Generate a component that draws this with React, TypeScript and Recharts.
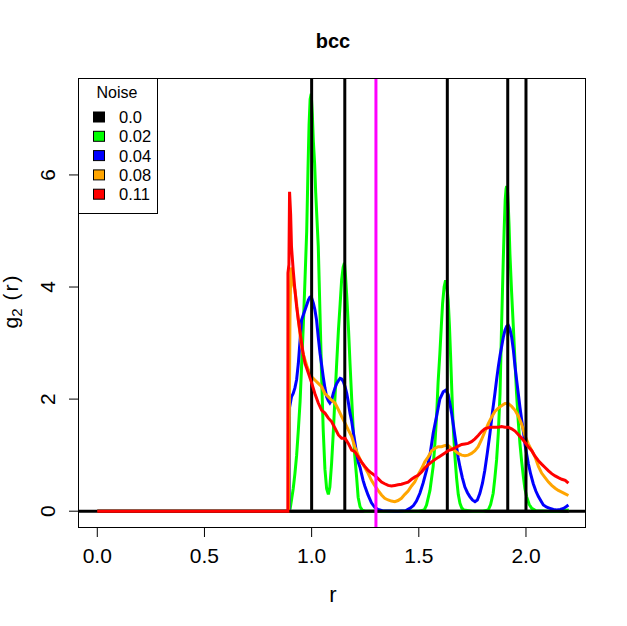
import { LineChart, Line, XAxis, YAxis, ReferenceLine } from "recharts";

// g2(r) for bcc with increasing noise
const xTicks = [0, 0.5, 1.0, 1.5, 2.0];
const yTicks = [0, 2, 4, 6];
const cutoff = 1.3;

// noise 0.0: delta peaks at the bcc shells (heights run off the chart)
const blackR = [0, 1.0, 1.0, 1.0, 1.1547, 1.1547, 1.1547, 1.633, 1.633, 1.633, 1.9149, 1.9149, 1.9149, 2.0, 2.0, 2.0, 2.2];
const blackG = [0, 0, 60, 0, 0, 60, 0, 0, 60, 0, 0, 60, 0, 0, 60, 0, 0];

const greenR = [0, 0.898, 0.906, 0.914, 0.922, 0.93, 0.938, 0.946, 0.953, 0.961, 0.969, 0.977, 0.983, 0.988, 0.993, 0.998, 1.003, 1.008, 1.014, 1.019, 1.025, 1.031, 1.039, 1.047, 1.054, 1.062, 1.07, 1.078, 1.085, 1.093, 1.101, 1.109, 1.117, 1.125, 1.133, 1.14, 1.147, 1.153, 1.158, 1.164, 1.172, 1.179, 1.187, 1.194, 1.201, 1.21, 1.217, 1.226, 1.236, 1.25, 1.3, 1.4, 1.5, 1.525, 1.536, 1.552, 1.567, 1.575, 1.583, 1.59, 1.598, 1.605, 1.611, 1.618, 1.625, 1.631, 1.637, 1.643, 1.648, 1.654, 1.66, 1.668, 1.676, 1.684, 1.692, 1.7, 1.71, 1.75, 1.8, 1.824, 1.835, 1.847, 1.855, 1.863, 1.871, 1.879, 1.886, 1.894, 1.898, 1.903, 1.907, 1.91, 1.914, 1.917, 1.921, 1.925, 1.933, 1.941, 1.949, 1.956, 1.964, 1.972, 1.98, 1.988, 1.995, 2.003, 2.015, 2.027, 2.045, 2.1, 2.15, 2.2];
const greenG = [0, 0, 0.2, 0.4, 0.67, 1.0, 1.45, 1.95, 2.58, 3.3, 4.13, 5.0, 6.1, 6.9, 7.35, 7.45, 7.1, 6.6, 6.2, 5.68, 5.2, 4.72, 3.53, 2.34, 1.45, 0.75, 0.4, 0.3, 0.43, 0.85, 1.4, 2.04, 2.65, 3.23, 3.7, 4.13, 4.35, 4.43, 4.2, 3.83, 3.25, 2.64, 2.0, 1.45, 1.0, 0.6, 0.25, 0.08, 0.02, 0, 0, 0, 0, 0.02, 0.11, 0.37, 0.8, 1.2, 1.7, 2.3, 2.8, 3.3, 3.71, 4.0, 4.12, 4.0, 3.77, 3.3, 2.8, 2.15, 1.55, 1.0, 0.6, 0.3, 0.14, 0.06, 0.02, 0, 0, 0.02, 0.12, 0.32, 0.6, 0.92, 1.4, 2.1, 3.29, 4.48, 5.0, 5.55, 5.75, 5.8, 5.7, 5.49, 5.1, 4.6, 3.9, 3.29, 2.65, 2.1, 1.6, 1.2, 0.88, 0.61, 0.4, 0.26, 0.12, 0.05, 0.01, 0, 0, 0.02];

const blueR = [0, 0.895, 0.897, 0.906, 0.914, 0.922, 0.93, 0.938, 0.946, 0.953, 0.961, 0.969, 0.977, 0.985, 0.992, 0.998, 1.008, 1.015, 1.023, 1.031, 1.039, 1.047, 1.054, 1.062, 1.07, 1.078, 1.085, 1.093, 1.101, 1.109, 1.117, 1.125, 1.133, 1.14, 1.148, 1.156, 1.164, 1.171, 1.179, 1.187, 1.194, 1.201, 1.21, 1.217, 1.226, 1.232, 1.24, 1.248, 1.263, 1.279, 1.294, 1.31, 1.33, 1.4, 1.44, 1.458, 1.475, 1.489, 1.505, 1.52, 1.536, 1.552, 1.567, 1.583, 1.598, 1.614, 1.626, 1.637, 1.645, 1.653, 1.66, 1.668, 1.676, 1.684, 1.692, 1.703, 1.715, 1.727, 1.738, 1.75, 1.762, 1.773, 1.785, 1.797, 1.808, 1.82, 1.832, 1.843, 1.855, 1.863, 1.871, 1.879, 1.886, 1.894, 1.902, 1.91, 1.917, 1.925, 1.933, 1.941, 1.949, 1.956, 1.964, 1.972, 1.98, 1.988, 1.995, 2.003, 2.011, 2.022, 2.034, 2.046, 2.058, 2.07, 2.081, 2.097, 2.112, 2.128, 2.143, 2.16, 2.175, 2.187, 2.198];
const blueG = [0, 0, 1.85, 2.04, 2.1, 2.2, 2.35, 2.64, 3.05, 3.41, 3.5, 3.59, 3.68, 3.77, 3.82, 3.83, 3.71, 3.6, 3.41, 3.1, 2.82, 2.6, 2.4, 2.2, 2.04, 1.97, 1.93, 1.98, 2.1, 2.2, 2.28, 2.33, 2.37, 2.36, 2.31, 2.22, 2.1, 1.95, 1.75, 1.6, 1.42, 1.25, 1.03, 0.88, 0.78, 0.68, 0.55, 0.45, 0.29, 0.15, 0.07, 0.03, 0.01, 0, 0.01, 0.05, 0.1, 0.18, 0.32, 0.5, 0.73, 1.0, 1.39, 1.7, 2.0, 2.13, 2.16, 2.08, 1.92, 1.75, 1.57, 1.35, 1.15, 0.95, 0.79, 0.6, 0.43, 0.33, 0.26, 0.2, 0.17, 0.2, 0.32, 0.5, 0.73, 1.05, 1.39, 1.75, 2.1, 2.35, 2.58, 2.78, 2.93, 3.1, 3.23, 3.3, 3.32, 3.25, 3.11, 2.88, 2.58, 2.35, 2.1, 1.85, 1.63, 1.42, 1.2, 1.02, 0.85, 0.66, 0.49, 0.36, 0.26, 0.18, 0.11, 0.07, 0.05, 0.03, 0.02, 0.03, 0.05, 0.08, 0.11];

const orangeR = [0, 0.893, 0.895, 0.899, 0.903, 0.906, 0.914, 0.922, 0.93, 0.938, 0.946, 0.953, 0.961, 0.969, 0.977, 0.985, 1.0, 1.015, 1.031, 1.047, 1.062, 1.078, 1.093, 1.109, 1.125, 1.14, 1.156, 1.171, 1.187, 1.201, 1.217, 1.232, 1.248, 1.263, 1.279, 1.294, 1.31, 1.326, 1.341, 1.357, 1.372, 1.388, 1.403, 1.419, 1.435, 1.45, 1.466, 1.481, 1.497, 1.513, 1.528, 1.544, 1.56, 1.575, 1.59, 1.606, 1.622, 1.637, 1.652, 1.668, 1.684, 1.7, 1.715, 1.73, 1.746, 1.762, 1.777, 1.793, 1.808, 1.824, 1.84, 1.855, 1.871, 1.886, 1.902, 1.917, 1.933, 1.949, 1.964, 1.98, 1.995, 2.011, 2.027, 2.042, 2.058, 2.073, 2.089, 2.105, 2.12, 2.136, 2.151, 2.167, 2.183, 2.198];
const orangeG = [0, 0, 1.3, 3.5, 4.35, 4.2, 4.05, 3.95, 3.7, 3.41, 3.15, 2.93, 2.8, 2.7, 2.6, 2.52, 2.4, 2.34, 2.28, 2.22, 2.1, 2.04, 1.98, 1.93, 1.81, 1.69, 1.57, 1.45, 1.33, 1.15, 1.0, 0.88, 0.78, 0.68, 0.55, 0.46, 0.37, 0.29, 0.23, 0.2, 0.18, 0.17, 0.19, 0.23, 0.3, 0.36, 0.45, 0.52, 0.65, 0.76, 0.88, 0.97, 1.08, 1.12, 1.15, 1.15, 1.17, 1.17, 1.12, 1.08, 1.03, 1.0, 0.99, 1.0, 1.03, 1.08, 1.15, 1.28, 1.42, 1.56, 1.68, 1.78, 1.84, 1.88, 1.92, 1.92, 1.87, 1.8, 1.7, 1.55, 1.35, 1.2, 1.08, 0.97, 0.8, 0.68, 0.6, 0.52, 0.46, 0.41, 0.37, 0.34, 0.31, 0.28];

const redR = [0, 0.889, 0.8895, 0.894, 0.897, 0.902, 0.906, 0.914, 0.922, 0.93, 0.938, 0.946, 0.953, 0.961, 0.969, 0.977, 0.985, 1.0, 1.015, 1.031, 1.047, 1.062, 1.078, 1.093, 1.109, 1.125, 1.14, 1.156, 1.171, 1.187, 1.202, 1.217, 1.232, 1.248, 1.263, 1.279, 1.294, 1.31, 1.326, 1.341, 1.357, 1.372, 1.388, 1.403, 1.419, 1.435, 1.45, 1.466, 1.481, 1.497, 1.513, 1.528, 1.544, 1.56, 1.575, 1.59, 1.606, 1.622, 1.637, 1.652, 1.668, 1.684, 1.7, 1.715, 1.73, 1.746, 1.762, 1.777, 1.793, 1.808, 1.824, 1.84, 1.855, 1.871, 1.886, 1.902, 1.917, 1.933, 1.949, 1.964, 1.98, 1.995, 2.011, 2.027, 2.042, 2.058, 2.073, 2.089, 2.105, 2.12, 2.136, 2.151, 2.167, 2.183, 2.198];
const redG = [0, 0, 4.25, 4.4, 5.7, 5.3, 4.72, 4.3, 3.95, 3.65, 3.41, 3.2, 3.0, 2.8, 2.64, 2.55, 2.46, 2.29, 2.1, 1.93, 1.8, 1.75, 1.66, 1.6, 1.48, 1.36, 1.3, 1.3, 1.21, 1.09, 1.06, 0.97, 0.88, 0.8, 0.73, 0.68, 0.64, 0.58, 0.52, 0.49, 0.46, 0.45, 0.46, 0.47, 0.48, 0.5, 0.52, 0.57, 0.61, 0.64, 0.7, 0.77, 0.83, 0.88, 0.92, 0.96, 1.0, 1.04, 1.08, 1.1, 1.13, 1.16, 1.19, 1.2, 1.21, 1.24, 1.29, 1.35, 1.42, 1.47, 1.49, 1.5, 1.5, 1.5, 1.51, 1.5, 1.5, 1.47, 1.43, 1.37, 1.3, 1.23, 1.15, 1.08, 0.98, 0.9, 0.84, 0.78, 0.72, 0.67, 0.63, 0.6, 0.57, 0.55, 0.5];

const legendNames = ["0.0", "0.02", "0.04", "0.08", "0.11"];
const legendColors = ["#000000", "#00ff00", "#0000ff", "#ffa500", "#ff0000"];

const FONT = "'Liberation Sans', Arial, sans-serif";

const toPts = (rs: number[], gs: number[]) => rs.map((r, i) => ({ r, g: gs[i] }));

const XTick = ({ x, payload }: any) => (
  <text x={x} y={563} textAnchor="middle" fontSize={21} fontFamily={FONT} fill="#000">
    {Number(payload.value).toFixed(1)}
  </text>
);

const YTick = ({ y, payload }: any) => (
  <text
    x={0}
    y={0}
    transform={`translate(55, ${y}) rotate(-90)`}
    textAnchor="middle"
    fontSize={21}
    fontFamily={FONT}
    fill="#000"
  >
    {payload.value}
  </text>
);

export default function App() {
  const series = [
    { data: toPts(greenR, greenG), color: "#00ff00" },
    { data: toPts(blueR, blueG), color: "#0000ff" },
    { data: toPts(orangeR, orangeG), color: "#ffa500" },
    { data: toPts(blackR, blackG), color: "#000000" },
    { data: toPts(redR, redG), color: "#ff0000" },
  ];

  return (
    <div style={{ position: "absolute", left: 0, top: 0, width: 627, height: 626, background: "#fff" }}>
      <LineChart width={627} height={626} margin={{ top: 78, right: 41, left: 0, bottom: 0 }}>
        <XAxis
          type="number"
          dataKey="r"
          domain={[-0.09, 2.28]}
          ticks={xTicks}
          allowDataOverflow
          axisLine={false}
          tickLine={{ stroke: "#000" }}
          tickSize={9}
          height={98}
          tick={<XTick />}
        />
        <YAxis
          type="number"
          dataKey="g"
          domain={[-0.3, 7.73]}
          ticks={yTicks}
          allowDataOverflow
          axisLine={false}
          tickLine={{ stroke: "#000" }}
          tickSize={9}
          width={78}
          tick={<YTick />}
        />
        <ReferenceLine y={0} stroke="#000" strokeWidth={3} />
        {series.map((s, i) => (
          <Line
            key={i}
            data={s.data}
            dataKey="g"
            type="linear"
            stroke={s.color}
            strokeWidth={3}
            dot={false}
            activeDot={false}
            isAnimationActive={false}
          />
        ))}
        <ReferenceLine x={cutoff} stroke="#ff00ff" strokeWidth={3} />
      </LineChart>
      <svg
        width={627}
        height={626}
        style={{ position: "absolute", left: 0, top: 0, pointerEvents: "none" }}
      >
        <rect x={78.5} y={78.5} width={507} height={449} fill="none" stroke="#000" strokeWidth={1} />
        <text x={333} y={48} textAnchor="middle" fontSize={20} fontWeight="bold" fontFamily={FONT}>
          bcc
        </text>
        <text x={333} y={602} textAnchor="middle" fontSize={22} fontFamily={FONT}>
          r
        </text>
        <text x={0} y={0} transform="translate(18, 301) rotate(-90)" textAnchor="middle" fontSize={21} fontFamily={FONT}>
          g<tspan dy={4} fontSize={15}>2</tspan>
          <tspan dy={-4} letterSpacing={2}> (r)</tspan>
        </text>
        <rect x={78.5} y={78.5} width={79} height={135} fill="#fff" stroke="#000" strokeWidth={1} />
        <text x={117} y={98} textAnchor="middle" fontSize={16} fontFamily={FONT}>
          Noise
        </text>
        {legendNames.map((name, i) => (
          <g key={name}>
            <rect x={93.5} y={112 + i * 19.3} width={11} height={10} fill={legendColors[i]} stroke="#000" strokeWidth={1} />
            <text x={119} y={123 + i * 19.3} fontSize={16.5} fontFamily={FONT}>
              {name}
            </text>
          </g>
        ))}
      </svg>
    </div>
  );
}
